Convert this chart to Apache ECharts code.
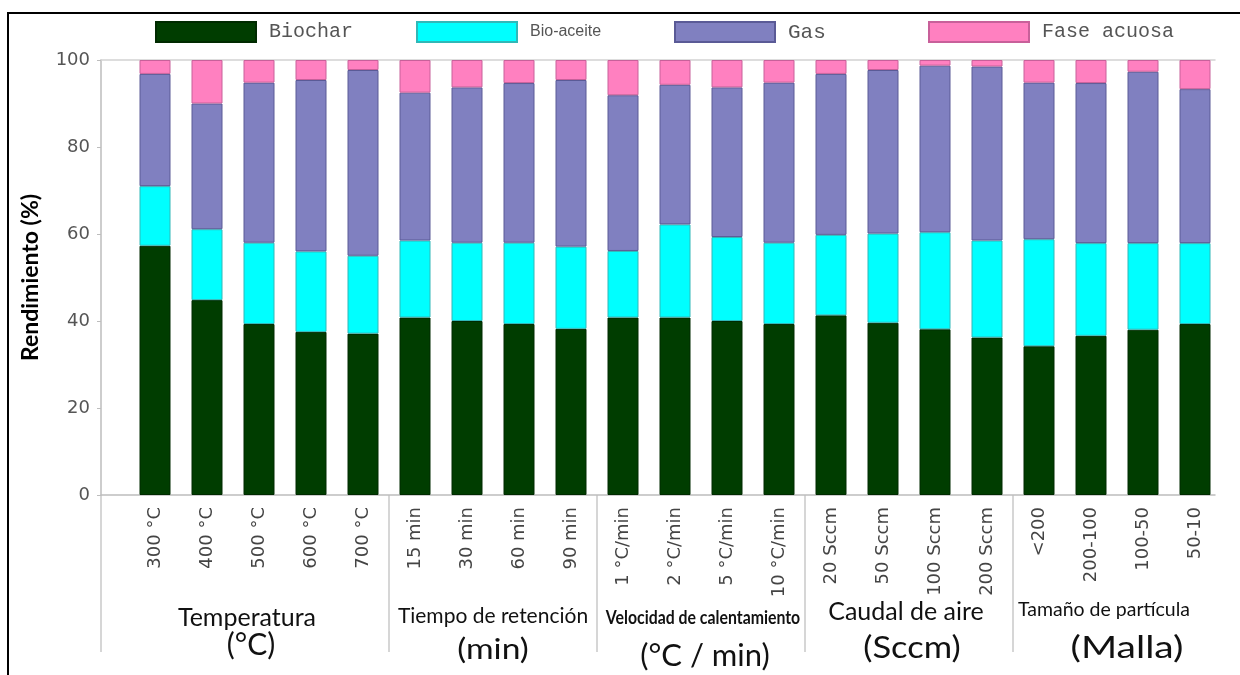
<!DOCTYPE html>
<html><head><meta charset="utf-8">
<script src="https://cdn.jsdelivr.net/npm/echarts@6/dist/echarts.min.js"></script>
<style>html,body{margin:0;padding:0;background:#fff}#c{width:1240px;height:675px}</style>
</head><body><div id="c"></div>
<script>
// ---------- data ----------
const categories = ['300 °C','400 °C','500 °C','600 °C','700 °C',
  '15 min','30 min','60 min','90 min',
  '1 °C/min','2 °C/min','5 °C/min','10 °C/min',
  '20 Sccm','50 Sccm','100 Sccm','200 Sccm',
  '<200','200-100','100-50','50-10'];
const groupTitles = ['Temperatura','Tiempo de retención','Velocidad de calentamiento','Caudal de aire','Tamaño de partícula'];
const groupUnits = ['(°C)','(min)','(°C / min)','(Sccm)','(Malla)'];
const groupSizes = [5,4,4,4,4];
const seriesNames = ['Biochar','Bio-aceite','Gas','Fase acuosa'];
const biochar    = [57.3,44.8,39.3,37.5,37.1,40.8,40.0,39.3,38.2,40.8,40.8,40.0,39.3,41.3,39.6,38.1,36.2,34.2,36.6,38.0,39.3];
const bioaceite  = [13.7,16.3,18.7,18.5,17.9,17.7,18.0,18.7,18.9,15.3,21.4,19.3,18.7,18.5,20.5,22.3,22.3,24.6,21.3,19.9,18.6];
const gas        = [25.8,28.9,36.8,39.4,42.7,34.0,35.7,36.7,38.3,35.8,32.1,34.4,36.8,37.0,37.6,38.3,40.0,36.0,36.8,39.4,35.4];
const faseAcuosa = [3.2,10.0,5.2,4.6,2.3,7.5,6.3,5.3,4.6,8.1,5.7,6.3,5.2,3.2,2.3,1.3,1.5,5.2,5.3,2.7,6.7];
const yMin = 0, yMax = 100, yStep = 20;

// ---------- styles ----------
const colors = ['#003d00','#00ffff','#8080c0','#ff80c0'];
const borders = ['#002a00','#30b8b8','#5a5a96','#c8609a'];
const legendLefts = [155,416,674,928];
const legendFonts = [
  {fontFamily:'Liberation Mono', fontSize:20},
  {fontFamily:'Liberation Sans', fontSize:16},
  {fontFamily:'Liberation Mono', fontSize:21},
  {fontFamily:'Liberation Mono', fontSize:20}
];
const titleStyles = [
  {fontSize:25, scaleX:1.0, dx:-12, dy:0},
  {fontSize:21, scaleX:1.0, dx:0, dy:-2},
  {fontSize:18, scaleX:0.88, dx:2, dy:0, fontWeight:'bold'},
  {fontSize:25, scaleX:1.0, dx:-3, dy:-6},
  {fontSize:20, scaleX:0.975, dx:-13, dy:-8}
];
const unitStyles = [
  {fontSize:30, scaleX:1.0, dx:-8},
  {fontSize:28, scaleX:1.2, dx:0},
  {fontSize:31, scaleX:1.0, dx:4},
  {fontSize:30, scaleX:1.15, dx:3},
  {fontSize:30, scaleX:1.3, dx:10}
];
const unitY = [645,650,656,648,648];
const titleY = 618;
const sepDrop = 157;

const chart = echarts.init(document.getElementById('c'), null, {renderer:'canvas'});
const valuesBySeries = [biochar, bioaceite, gas, faseAcuosa];
const gridTop = 60, gridBottom = 180;

const option = {
  animation: false,
  backgroundColor: '#fff',
  grid: [
    {left:101, right:25, top:gridTop, bottom:gridBottom, containLabel:false},
    {left:129, right:19, top:gridTop, bottom:gridBottom, containLabel:false}
  ],
  legend: seriesNames.map((n,i)=>({
    data:[{name:n, textStyle:Object.assign({color:'#555', padding:[0,0,0,8]}, legendFonts[i])}],
    left: legendLefts[i], top: 21, padding: 0,
    itemWidth: 100, itemHeight: 20, icon: 'rect', selectedMode: false
  })),
  xAxis: [{
    gridIndex:0, type:'value', min:0, max:1, position:'bottom',
    axisLine:{show:true, onZero:false, lineStyle:{color:'#bdbdbd', width:1.5}},
    axisTick:{show:false}, splitLine:{show:false}, axisLabel:{show:false}
  },{
    gridIndex:0, type:'value', min:0, max:1, position:'top',
    axisLine:{show:true, onZero:false, lineStyle:{color:'#d2d2d2', width:1.5}},
    axisTick:{show:false}, splitLine:{show:false}, axisLabel:{show:false}
  },{
    gridIndex:1, type:'category', data:categories, position:'bottom',
    axisLine:{show:false}, axisTick:{show:false}, splitLine:{show:false},
    axisLabel:{interval:0, rotate:90, margin:12, fontFamily:'DejaVu Sans', fontSize:18, color:'#444'}
  }],
  yAxis: [{
    gridIndex:0, type:'value', min:yMin, max:yMax, interval:yStep,
    name:'Rendimiento (%)', nameLocation:'middle', nameGap:59,
    nameTextStyle:{fontFamily:'Lato', fontWeight:'bold', fontSize:23, color:'#000'},
    axisLine:{show:true, onZero:false, lineStyle:{color:'#bdbdbd', width:1.5}},
    axisTick:{show:true, length:4, lineStyle:{color:'#bdbdbd'}},
    axisLabel:{fontFamily:'DejaVu Sans', fontSize:18, color:'#555', margin:11},
    splitLine:{show:false}
  },{
    gridIndex:1, type:'value', min:yMin, max:yMax, interval:yStep, show:false
  }],
  series: seriesNames.map((n,si)=>({
    name:n, type:'bar', stack:'total', barWidth:31, xAxisIndex:2, yAxisIndex:1,
    itemStyle:{color:colors[si], borderColor:borders[si], borderWidth:1},
    data: valuesBySeries[si]
  })),
  graphic: [{
    type:'rect', silent:true, z:100,
    shape:{x:8, y:13, width:1300, height:700},
    style:{fill:null, stroke:'#000', lineWidth:2}
  }]
};
chart.setOption(option);

// group separators and labels, positioned through the axis scales
const px = (i) => chart.convertToPixel({xAxisIndex:2, yAxisIndex:1},[i,0]);
const g = [];
const base = chart.convertToPixel({xAxisIndex:0, yAxisIndex:0},[0,0]);
g.push({type:'line', silent:true, shape:{x1:base[0], y1:base[1], x2:base[0], y2:base[1]+sepDrop},
  style:{stroke:'#c8c8c8', lineWidth:1.5}});
let start = 0;
groupSizes.forEach((sz,gi)=>{
  const end = start + sz - 1;
  if (gi < groupSizes.length-1) {
    const a = px(end), b = px(end+1);
    const xs = (a[0]+b[0])/2;
    g.push({type:'line', silent:true, shape:{x1:xs, y1:a[1], x2:xs, y2:a[1]+sepDrop},
      style:{stroke:'#c8c8c8', lineWidth:1.5}});
  }
  const c = (px(start)[0] + px(end)[0]) / 2;
  const ts = titleStyles[gi], us = unitStyles[gi];
  g.push({type:'text', silent:true, x:c + ts.dx, y:titleY + ts.dy, scaleX:ts.scaleX,
    style:{text:groupTitles[gi], fontFamily:'Lato', fontSize:ts.fontSize, fontWeight:ts.fontWeight||'normal',
      fill:'#111', align:'center', verticalAlign:'middle'}});
  g.push({type:'text', silent:true, x:c + us.dx, y:unitY[gi], scaleX:us.scaleX,
    style:{text:groupUnits[gi], fontFamily:'Lato', fontSize:us.fontSize,
      fill:'#111', align:'center', verticalAlign:'middle'}});
  start += sz;
});
chart.setOption({graphic: option.graphic.concat(g)});
</script>
</body></html>
